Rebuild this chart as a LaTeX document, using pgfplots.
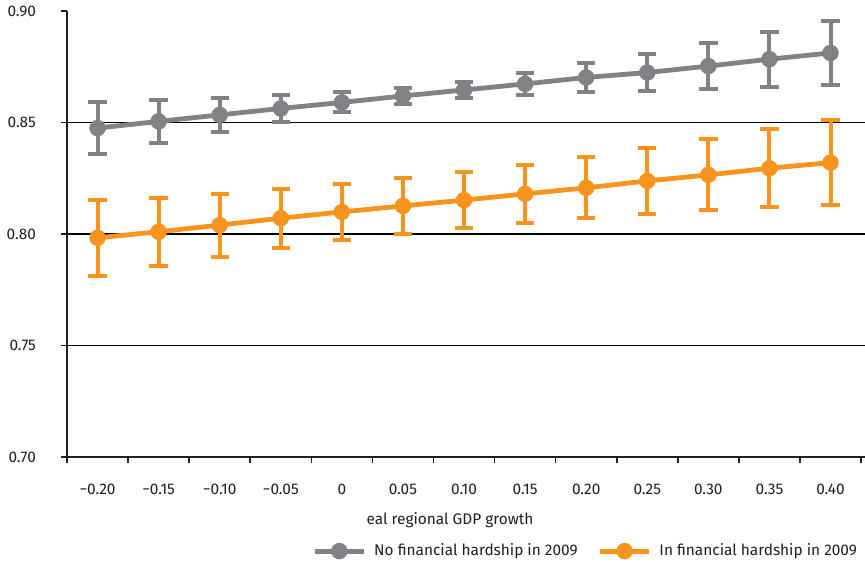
\documentclass[border=0pt]{standalone}
\usepackage{pgfplots}
\pgfplotsset{compat=1.18}
\usepackage{pgfplotstable}
\usepackage{fontspec}
\setmainfont{Fira Sans}
\definecolor{cgray}{HTML}{808285}
\definecolor{corange}{HTML}{F7941D}
\definecolor{axisc}{HTML}{231F20}

\pgfplotstableread{
x y e
0 0.8475 0.0115
1 0.8505 0.0098
2 0.8534 0.0078
3 0.8563 0.0062
4 0.8590 0.0045
5 0.8619 0.0034
6 0.8646 0.0036
7 0.8673 0.0050
8 0.8702 0.0067
9 0.8724 0.0083
10 0.8753 0.0103
11 0.8784 0.0123
12 0.8812 0.0144
}\nohard

\pgfplotstableread{
x y e
0 0.7983 0.0170
1 0.8010 0.0153
2 0.8040 0.0141
3 0.8071 0.0132
4 0.8099 0.0125
5 0.8126 0.0126
6 0.8152 0.0126
7 0.8180 0.0130
8 0.8207 0.0137
9 0.8238 0.0148
10 0.8265 0.0159
11 0.8295 0.0175
12 0.8320 0.0189
}\hard

\begin{document}
\begin{tikzpicture}
\path[use as bounding box] (0,0) rectangle (432.5pt,281.5pt);
\begin{axis}[
  at={(33.5pt,53pt)}, anchor=south west,
  scale only axis, width=399pt, height=223pt,
  xmin=-0.5, xmax=12.565, ymin=0.70, ymax=0.90,
  clip=false,
  axis lines*=left,
  axis line style={axisc, line width=1.2pt},
  font=\fontsize{7.7}{9.5}\selectfont,
  tick align=outside,
  xtick={0,...,12},
  xticklabels={−0.20,−0.15,−0.10,−0.05,0,0.05,0.10,0.15,0.20,0.25,0.30,0.35,0.40},
  major x tick style={draw=none},
  minor xtick={-0.5,0.5,...,12.5},
  minor x tick style={axisc, line width=0.8pt},
  minor tick length=3pt,
  xticklabel style={yshift=-7pt, text=axisc},
  ytick={0.75,0.80,0.85},
  yticklabels={0.75,0.80,0.85},
  extra y ticks={0.70,0.90},
  extra y tick labels={0.70,0.90},
  extra y tick style={grid=none},
  ymajorgrids,
  major grid style={black, line width=0.6pt},
  major tick length=3pt,
  ytick style={axisc, line width=0.8pt},
  yticklabel style={xshift=-9pt, text=axisc},
  xlabel={eal regional GDP growth},
  xlabel style={at={(axis description cs:0.48,-0.141)}, anchor=center, text=axisc},
  legend columns=2,
  legend style={draw=none, fill=none, at={(axis description cs:1.003,-0.211)}, anchor=east,
    font=\fontsize{7.7}{9.5}\selectfont, text=axisc,
    /tikz/every odd column/.append style={column sep=2pt},
    /tikz/every even column/.append style={column sep=8pt}},
  legend cell align=left,
]
\addplot[cgray, line width=2.4pt, mark=*, mark size=2.9pt,
  legend image code/.code={
    \draw[cgray, line width=2.4pt] (0pt,0pt) -- (24.5pt,0pt);
    \fill[cgray] (12.25pt,0pt) circle (2.9pt);},
  error bars/.cd, y dir=both, y explicit,
  error bar style={cgray, line width=2pt},
  error mark options={cgray, line width=2pt, mark size=4.6pt, rotate=90},
  ] table[x=x, y=y, y error=e] {\nohard};
\addlegendentry{No financial hardship in 2009}
\addplot[corange, line width=2.4pt, mark=*, mark size=2.9pt,
  legend image code/.code={
    \draw[corange, line width=2.4pt] (0pt,0pt) -- (24.5pt,0pt);
    \fill[corange] (12.25pt,0pt) circle (2.9pt);},
  error bars/.cd, y dir=both, y explicit,
  error bar style={corange, line width=2pt},
  error mark options={corange, line width=2pt, mark size=4.6pt, rotate=90},
  ] table[x=x, y=y, y error=e] {\hard};
\addlegendentry{In financial hardship in 2009}
\end{axis}
\end{tikzpicture}
\end{document}
